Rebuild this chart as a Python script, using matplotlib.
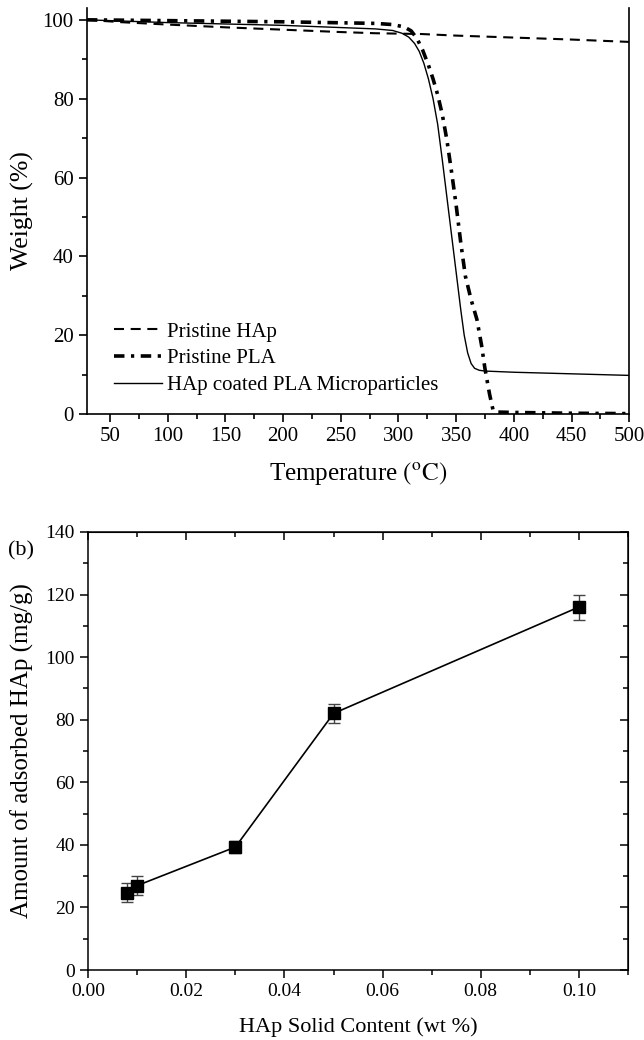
import matplotlib
matplotlib.use("Agg")
import matplotlib.pyplot as plt
from matplotlib.ticker import MultipleLocator, NullFormatter

plt.rcParams['font.family'] = ['Liberation Serif', 'DejaVu Serif']
plt.rcParams['mathtext.fontset'] = 'stix'

# (a) TGA curves
t_hap = [30, 60, 100, 150, 200, 250, 280, 320, 350, 400, 450, 500]
w_hap = [100, 99.4, 98.8, 98.1, 97.5, 96.9, 96.6, 96.4, 96.0, 95.5, 95.0, 94.4]

t_pla = [30, 100, 200, 280, 295, 305, 311, 316, 321, 326, 330, 334, 338, 342,
         346, 350, 354, 358, 363, 368, 372, 375, 379, 382, 385, 400, 450, 500]
w_pla = [100, 99.8, 99.5, 99.1, 98.8, 98.2, 97.2, 95.3, 92.3, 88.5, 85.0, 81.0,
         76.0, 69.5, 61.5, 53.0, 43.5, 35.0, 29.0, 24.0, 17.5, 11.5, 5.0, 1.0,
         0.5, 0.4, 0.2, 0.1]

t_coat = [30, 100, 200, 280, 295, 303, 309, 314, 318, 322, 326, 330, 334, 338,
          342, 346, 350, 354, 357, 360, 363, 366, 370, 375, 400, 450, 500]
w_coat = [100, 99.3, 98.6, 97.7, 97.3, 96.6, 95.6, 94.0, 92.0, 89.0, 85.0, 80.0,
          73.5, 64.5, 55.0, 45.5, 36.0, 26.5, 20.0, 15.5, 12.8, 11.6, 11.1,
          10.9, 10.6, 10.2, 9.8]

# (b) adsorbed HAp
solid = [0.008, 0.01, 0.03, 0.05, 0.10]
adsorbed = [24.7, 27.0, 39.3, 82.0, 116.0]
adsorbed_err = [3.0, 3.0, 2.0, 3.0, 4.0]

fig = plt.figure(figsize=(6.44, 10.4), dpi=100)

# top panel
ax1 = fig.add_axes([0.135, 0.6019, 0.842, 0.3904])
ax1.plot(t_hap, w_hap, color='black', ls=(0, (4.8, 3.2)), lw=1.5, label='Pristine HAp')
ax1.plot(t_pla, w_pla, color='black', ls=(0, (2.9, 1.8, 0.9, 1.8)), lw=2.6,
         label='Pristine PLA')
ax1.plot(t_coat, w_coat, color='black', ls='-', lw=1.0,
         label='HAp coated PLA Microparticles')
ax1.set_xlim(30, 500)
ax1.set_ylim(0, 103)
ax1.set_xticks(range(50, 501, 50))
ax1.set_yticks(range(0, 101, 20))
ax1.xaxis.set_minor_locator(MultipleLocator(25))
ax1.yaxis.set_minor_locator(MultipleLocator(10))
ax1.tick_params(which='both', direction='out', labelsize=15, width=1.2)
ax1.tick_params(which='major', length=6)
ax1.tick_params(which='minor', length=3.5)
ax1.spines['top'].set_visible(False)
for s in ['left', 'bottom', 'right']:
    ax1.spines[s].set_linewidth(1.2)
ax1.set_xlabel('Temperature $\\mathrm{(^{o}C)}$', fontsize=18, labelpad=10)
ax1.set_ylabel('Weight (%)', fontsize=18.5, labelpad=6)
ax1.legend(loc='lower left', bbox_to_anchor=(0.015, 0.0), frameon=False,
           fontsize=15, handlelength=2.3, handletextpad=0.25, labelspacing=0.35)

# bottom panel
ax2 = fig.add_axes([0.137, 0.0673, 0.838, 0.4212])
ax2.errorbar(solid, adsorbed, yerr=adsorbed_err, color='black', marker='s',
             ms=8, lw=1.2, ecolor='#444444', elinewidth=1, capsize=4)
ax2.set_xlim(0, 0.11)
ax2.set_ylim(0, 140)
ax2.set_xticks([0.0, 0.02, 0.04, 0.06, 0.08, 0.10])
ax2.set_xticklabels(['0.00', '0.02', '0.04', '0.06', '0.08', '0.10'])
ax2.set_yticks(range(0, 141, 20))
ax2.xaxis.set_minor_locator(MultipleLocator(0.01))
ax2.yaxis.set_minor_locator(MultipleLocator(10))
ax2.tick_params(which='both', direction='out', labelsize=14, width=1.1)
ax2.tick_params(which='major', length=6)
ax2.tick_params(which='minor', length=3.5)
for s in ax2.spines.values():
    s.set_linewidth(1.1)

# inward ticks on the top and right edges
top = ax2.secondary_xaxis('top')
top.set_xticks([0.0, 0.02, 0.04, 0.06, 0.08, 0.10])
top.xaxis.set_minor_locator(MultipleLocator(0.01))
top.xaxis.set_major_formatter(NullFormatter())
top.tick_params(which='both', direction='in', width=1.1)
top.tick_params(which='major', length=6)
top.tick_params(which='minor', length=3.5)
right = ax2.secondary_yaxis('right')
right.set_yticks(range(0, 141, 20))
right.yaxis.set_minor_locator(MultipleLocator(10))
right.yaxis.set_major_formatter(NullFormatter())
right.tick_params(which='both', direction='in', width=1.1)
right.tick_params(which='major', length=6)
right.tick_params(which='minor', length=3.5)

ax2.set_xlabel('HAp Solid Content (wt %)', fontsize=16, labelpad=12)
ax2.set_ylabel('Amount of adsorbed HAp (mg/g)', fontsize=18, labelpad=8)
fig.text(0.012, 0.466, '(b)', fontsize=16)

fig.savefig('out.png', dpi=100)
